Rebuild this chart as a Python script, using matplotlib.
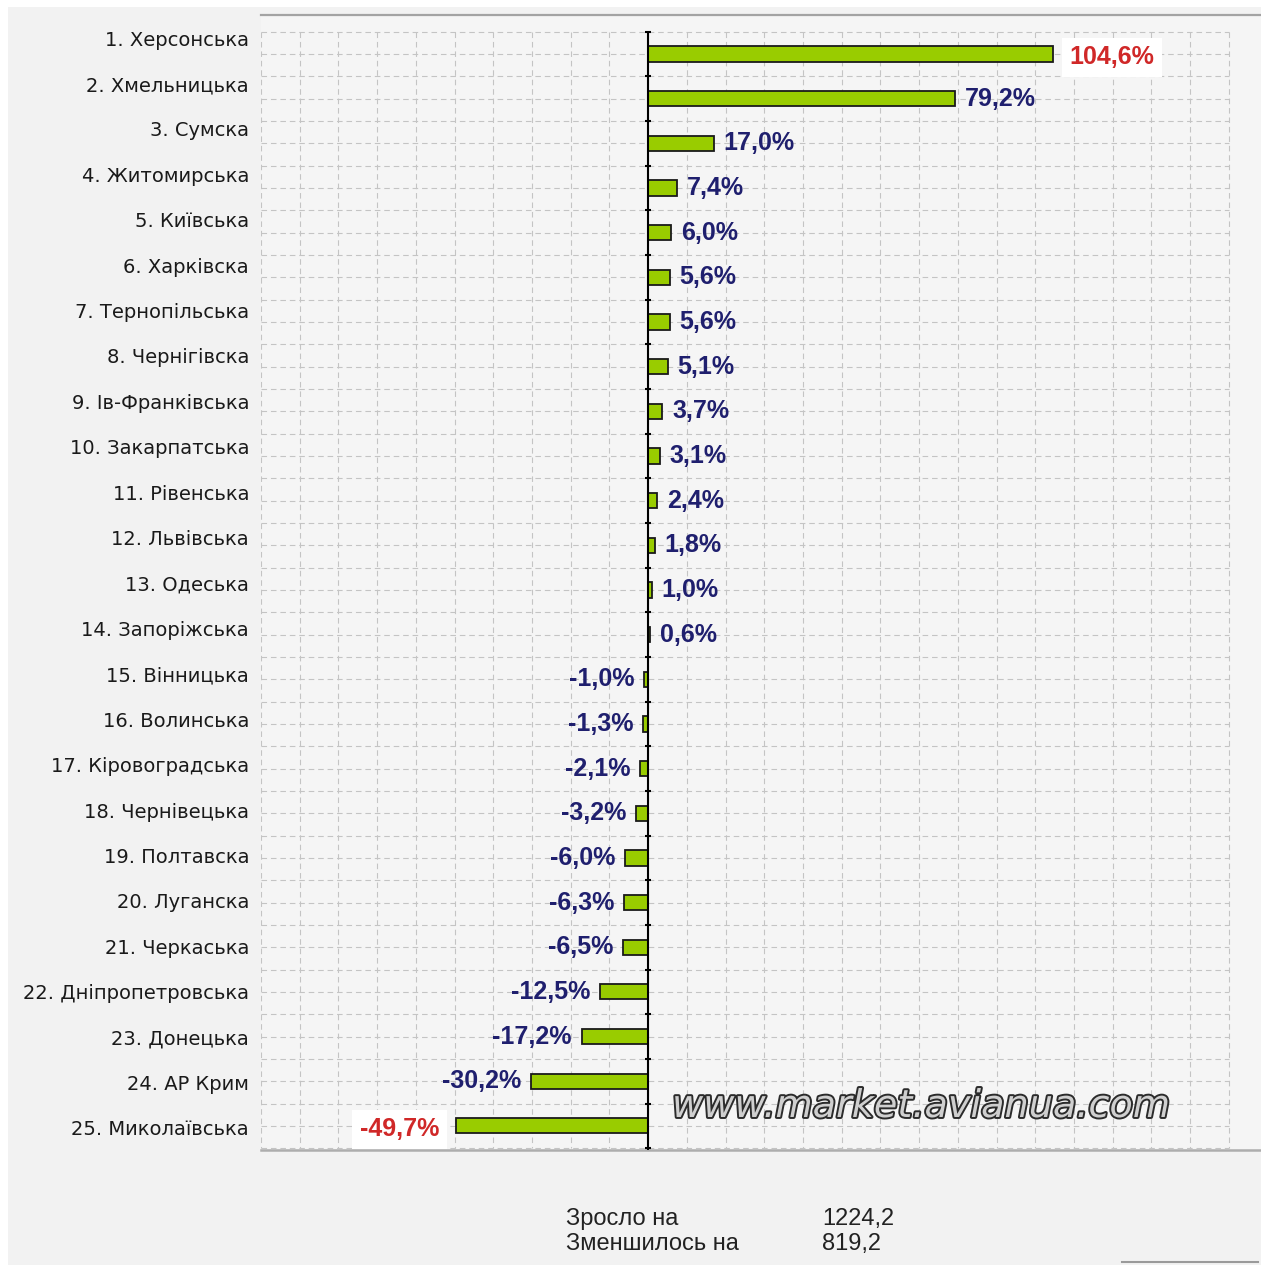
import numpy as np
import matplotlib
matplotlib.use('Agg')
import matplotlib.pyplot as plt
import matplotlib.patheffects as pe
from matplotlib.patches import Rectangle
from matplotlib.lines import Line2D

regions = [
    "1. Херсонська", "2. Хмельницька", "3. Сумска", "4. Житомирська",
    "5. Київська", "6. Харківска", "7. Тернопільська", "8. Чернігівска",
    "9. Ів-Франківська", "10. Закарпатська", "11. Рівенська", "12. Львівська",
    "13. Одеська", "14. Запоріжська", "15. Вінницька", "16. Волинська",
    "17. Кіровоградська", "18. Чернівецька", "19. Полтавска", "20. Луганска",
    "21. Черкаська", "22. Дніпропетровська", "23. Донецька", "24. АР Крим",
    "25. Миколаївська",
]
values = [104.6, 79.2, 17.0, 7.4, 6.0, 5.6, 5.6, 5.1, 3.7, 3.1, 2.4, 1.8, 1.0,
          0.6, -1.0, -1.3, -2.1, -3.2, -6.0, -6.3, -6.5, -12.5, -17.2, -30.2, -49.7]
summary_labels = ["Зросло на", "Зменшилось на"]
summary_values = ["1224,2", "819,2"]
watermark = "www.market.avianua.com"

W, H = 1261, 1265
fig = plt.figure(figsize=(W / 100, H / 100), dpi=100, facecolor='#f2f2f2')


def fx(px):
    return px / W


def fy(py):
    return 1 - py / H


# white borders of the original screenshot
fig.add_artist(Rectangle((0, fy(7)), 1, 1 - fy(7), transform=fig.transFigure,
                         fc='white', ec='none', zorder=-5))
fig.add_artist(Rectangle((0, 0), fx(8), 1, transform=fig.transFigure,
                         fc='white', ec='none', zorder=-5))

ax = fig.add_axes([fx(261), fy(1150), fx(1261) - fx(261), fy(15) - fy(1150)])
ax.set_facecolor('#f5f5f5')

n = len(values)
y = np.arange(n)
ax.set_xlim(-100, 158.3)
ax.set_ylim(n - 1 + 0.54, -0.873)

# grid
dash = (0, (5, 3.5))
ax.vlines(np.arange(-100, 151, 10), -0.5, n - 0.5, colors='#c4c4c4',
          linestyles=dash, linewidth=0.8, zorder=1)
ax.hlines(np.arange(-0.5, n, 0.5), -100, 150, colors='#c4c4c4',
          linestyles=dash, linewidth=0.8, zorder=1)

# bars
ax.barh(y, values, height=0.34, color='#99cc00', edgecolor='#1a1a1a',
        linewidth=1.3, zorder=3)

# zero axis with ticks at category boundaries
ax.vlines(0, -0.5, n - 1 + 0.54, colors='black', linewidth=1.5, zorder=4)
ax.plot(np.zeros(n + 1), np.arange(n + 1) - 0.5, ls='none', marker='_',
        ms=5, mew=1.5, color='black', zorder=4)

# category labels
ax.set_yticks(y * 1.0168 - 0.358)
ax.set_yticklabels(regions, fontsize=14, family='DejaVu Sans', color='#1a1a1a')
ax.tick_params(axis='y', length=0, pad=8.6)
ax.set_xticks([])

for side in ('left', 'right'):
    ax.spines[side].set_visible(False)
ax.spines['top'].set_color('#a3a3a3')
ax.spines['top'].set_linewidth(1.6)
ax.spines['bottom'].set_color('#adadad')
ax.spines['bottom'].set_linewidth(1.8)

# value labels
vmax, vmin = max(values), min(values)
for yi, v in zip(y, values):
    txt = f"{v:.1f}%".replace('.', ',')
    extreme = v in (vmax, vmin)
    sign = 1 if v > 0 else -1
    kw = dict(ha='left' if v > 0 else 'right', va='center', fontsize=18,
              fontweight='bold', family='Liberation Sans', zorder=6,
              textcoords='offset points', annotation_clip=False)
    if extreme:
        kw['bbox'] = dict(boxstyle='square,pad=0.3', fc='white', ec='none')
        ax.annotate(txt, (v, yi), xytext=(12 * sign, -2.5), color='#d02828', **kw)
    else:
        ax.annotate(txt, (v, yi), xytext=(7 * sign, 0), color='#1f1f6e', **kw)

# watermark
fig.text(fx(672), fy(1117), watermark, fontsize=27.5, style='italic',
         family='DejaVu Sans', color='#cfcfcf', va='baseline', ha='left',
         path_effects=[pe.Stroke(linewidth=2.8, foreground='#2b2b2b'), pe.Normal()],
         zorder=10)

# summary
rows_y = [1219, 1244]
for lab, val, py in zip(summary_labels, summary_values, rows_y):
    fig.text(fx(566), fy(py), lab, fontsize=17, family='Liberation Sans',
             color='#222222', va='center', ha='left')
    fig.text(fx(822), fy(py), val, fontsize=17, family='Liberation Sans',
             color='#222222', va='center', ha='left')

fig.add_artist(Line2D([fx(1122), fx(1258)], [fy(1262), fy(1262)],
                      transform=fig.transFigure, color='#9a9a9a', lw=1.5))

fig.savefig('out.png', dpi=100, facecolor=fig.get_facecolor())
